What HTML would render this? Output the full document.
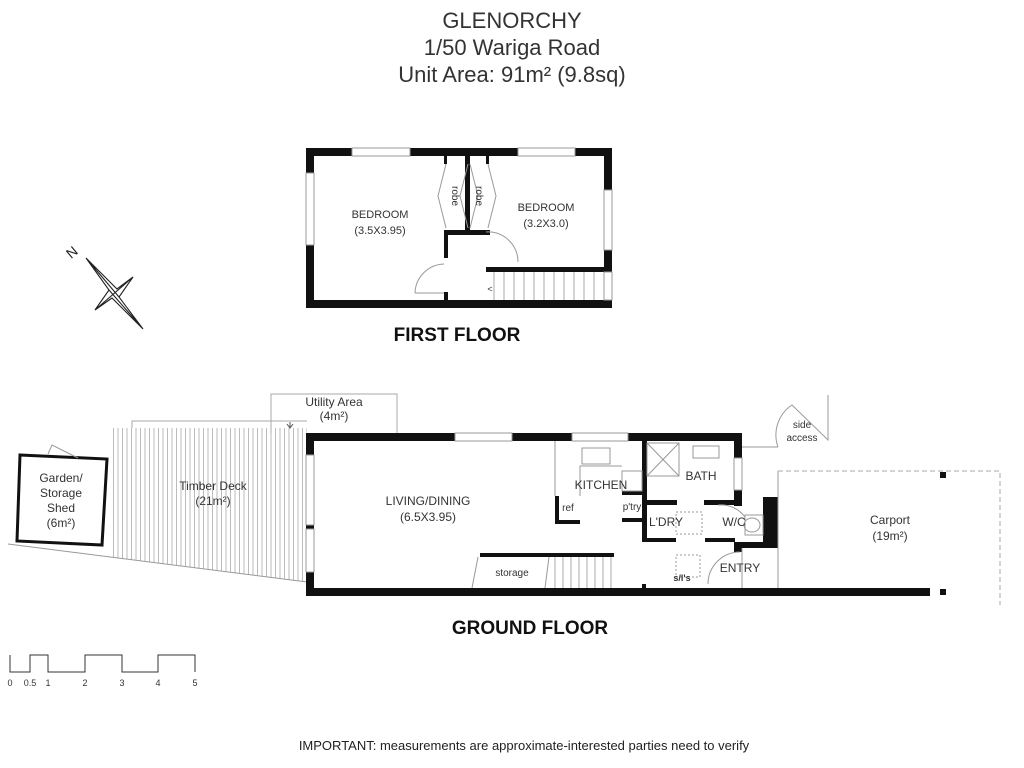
<!DOCTYPE html>
<html><head><meta charset="utf-8"><style>
html,body{margin:0;padding:0;background:#fff;}
svg{display:block;font-family:"Liberation Sans",sans-serif;}
</style></head><body>
<svg width="1024" height="768" viewBox="0 0 1024 768" xmlns="http://www.w3.org/2000/svg">
<defs>
<pattern id="deck" width="4.5" height="10" patternUnits="userSpaceOnUse"><line x1="1" y1="0" x2="1" y2="10" stroke="#aaa" stroke-width="0.8"/></pattern>
</defs>
<g fill="#333" text-anchor="middle" font-size="22">
<text x="512" y="28">GLENORCHY</text>
<text x="512" y="55">1/50 Wariga Road</text>
<text x="512" y="82">Unit Area: 91m² (9.8sq)</text>
</g>

<!-- FIRST FLOOR -->
<g fill="#111">
<rect x="306" y="148" width="306" height="8"/>
<rect x="306" y="148" width="8" height="160"/>
<rect x="604" y="148" width="8" height="160"/>
<rect x="306" y="300" width="306" height="8"/>
<rect x="465" y="156" width="5" height="76"/>
<rect x="444" y="230" width="46" height="5"/>
<rect x="444" y="230" width="4" height="28"/>
<rect x="444" y="292" width="4" height="10"/>
<rect x="486" y="267" width="120" height="5"/>
<rect x="486" y="230" width="4" height="5"/>
<rect x="444" y="156" width="3" height="8"/>
<rect x="486" y="156" width="3" height="8"/>
</g>
<g fill="#fff" stroke="#999" stroke-width="1">
<rect x="352" y="148" width="58" height="8"/>
<rect x="518" y="148" width="57" height="8"/>
<rect x="306" y="173" width="8" height="72"/>
<rect x="604" y="190" width="8" height="60"/>
<rect x="604" y="272" width="8" height="28"/>
</g>
<g fill="none" stroke="#999" stroke-width="1">
<path d="M446 164 L438 196 L446 228 M470 164 L478 196 L470 228 M488 164 L496 196 L488 228 M468 164 L460 196 L468 228"/>
<path d="M415 293 A30 30 0 0 1 444 264 M486 232 A30 30 0 0 1 518 262"/>
<line x1="415" y1="293" x2="444" y2="293"/>
</g>
<g stroke="#aaa" stroke-width="1">
<line x1="494" y1="272" x2="494" y2="300"/><line x1="504" y1="272" x2="504" y2="300"/><line x1="514" y1="272" x2="514" y2="300"/><line x1="524" y1="272" x2="524" y2="300"/><line x1="534" y1="272" x2="534" y2="300"/><line x1="544" y1="272" x2="544" y2="300"/><line x1="554" y1="272" x2="554" y2="300"/><line x1="564" y1="272" x2="564" y2="300"/><line x1="574" y1="272" x2="574" y2="300"/><line x1="584" y1="272" x2="584" y2="300"/><line x1="594" y1="272" x2="594" y2="300"/>
</g>
<g fill="#333" font-size="11" text-anchor="middle">
<text x="380" y="218">BEDROOM</text><text x="380" y="234">(3.5X3.95)</text>
<text x="546" y="211">BEDROOM</text><text x="546" y="227">(3.2X3.0)</text>
<text x="490" y="292" font-size="9">&lt;</text>
<text transform="translate(452,196) rotate(90)" font-size="10">robe</text>
<text transform="translate(476,196) rotate(90)" font-size="10">robe</text>
</g>
<text x="457" y="341" font-size="19" font-weight="bold" text-anchor="middle" fill="#111">FIRST FLOOR</text>

<!-- compass -->
<path d="M86 258 L117 289 L133 277 L119 297 L143 329 L112 298 L95 310 L109 290 Z M86 258 L119 297 M143 329 L109 290 M133 277 L95 310" fill="none" stroke="#222" stroke-width="1.1"/>
<text transform="translate(75,256) rotate(-40)" font-size="14" fill="#222" text-anchor="middle">N</text>

<!-- deck / shed -->
<path d="M111 428 L307 428 L307 582 L111 557 Z" fill="url(#deck)"/>
<path d="M132 428 L132 421 L307 421" fill="none" stroke="#aaa"/>
<path d="M8 544 L307 582" stroke="#999" fill="none"/>
<path d="M271 433 L271 394 L397 394 L397 433" fill="none" stroke="#aaa"/>
<path d="M290 422 L290 428 M287 424 L290 428 L293 424" stroke="#555" fill="none"/>
<path d="M20 455 L107 459 L102 545 L17 541 Z" fill="none" stroke="#111" stroke-width="3"/>
<path d="M48 454 L52 445 L78 458" fill="none" stroke="#999"/>
<g fill="#333" font-size="12" text-anchor="middle">
<text x="61" y="482">Garden/</text><text x="61" y="497">Storage</text><text x="61" y="512">Shed</text><text x="61" y="527">(6m²)</text>
<text x="213" y="490">Timber Deck</text><text x="213" y="505">(21m²)</text>
<text x="334" y="406">Utility Area</text><text x="334" y="420">(4m²)</text>
</g>

<!-- GROUND FLOOR -->
<g fill="#111">
<rect x="306" y="433" width="436" height="8"/>
<rect x="306" y="433" width="8" height="22"/>
<rect x="306" y="525" width="8" height="4"/>
<rect x="306" y="572" width="8" height="24"/>
<rect x="306" y="588" width="624" height="8"/>
<rect x="734" y="433" width="8" height="25"/>
<rect x="734" y="490" width="8" height="16"/>
<rect x="763" y="497" width="15" height="48"/>
<rect x="734" y="542" width="44" height="6"/>
<rect x="734" y="542" width="8" height="10"/>
<rect x="642" y="441" width="5" height="100"/>
<rect x="642" y="500" width="35" height="5"/>
<rect x="704" y="500" width="30" height="5"/>
<rect x="642" y="538" width="34" height="4"/>
<rect x="705" y="538" width="30" height="4"/>
<rect x="622" y="491" width="22" height="4"/>
<rect x="622" y="518" width="22" height="4"/>
<rect x="555" y="496" width="4" height="28"/>
<rect x="555" y="520" width="25" height="4"/>
<rect x="480" y="553" width="134" height="4"/>
<rect x="642" y="584" width="4" height="6"/>
<rect x="940" y="472" width="6" height="6"/>
<rect x="940" y="589" width="6" height="6"/>
</g>
<g fill="#fff" stroke="#999" stroke-width="1">
<rect x="455" y="433" width="57" height="8"/>
<rect x="572" y="433" width="56" height="8"/>
<rect x="734" y="458" width="8" height="32"/>
<rect x="306" y="455" width="8" height="70"/>
<rect x="306" y="529" width="8" height="43"/>
</g>
<g fill="none" stroke="#999" stroke-width="1">
<rect x="582" y="448" width="28" height="16"/><rect x="693" y="446" width="26" height="12"/>
<rect x="647" y="443" width="32" height="33"/><path d="M647 443 L679 476 M679 443 L647 476"/>
<rect x="622" y="471" width="20" height="20"/>
<path d="M555 441 L555 496 M580 496 L580 466 L622 466"/>
<rect x="676" y="512" width="26" height="22" stroke-dasharray="2 2"/>
<rect x="676" y="555" width="24" height="22" stroke-dasharray="2 2"/>
<path d="M708 584 A32 32 0 0 1 740 552"/>
<path d="M718 505 A30 30 0 0 1 745 517"/>
<path d="M742 548 L742 588 M778 471 L778 588"/>
<path d="M742 447 L778 447 M778 447 A36 36 0 0 1 792 405 L828 440 L828 395"/>
<rect x="745" y="515" width="18" height="20"/>
<ellipse cx="752" cy="525" rx="8" ry="7"/>
<path d="M478 557 L472 588 M549 557 L545 588"/>
</g>
<path d="M778 471 L1000 471 L1000 605" fill="none" stroke="#aaa" stroke-dasharray="5 3"/>
<g stroke="#aaa" stroke-width="1">
<line x1="555" y1="557" x2="555" y2="588"/><line x1="563" y1="557" x2="563" y2="588"/><line x1="571" y1="557" x2="571" y2="588"/><line x1="579" y1="557" x2="579" y2="588"/><line x1="587" y1="557" x2="587" y2="588"/><line x1="595" y1="557" x2="595" y2="588"/><line x1="603" y1="557" x2="603" y2="588"/><line x1="611" y1="557" x2="611" y2="588"/>
</g>
<g fill="#333" font-size="12" text-anchor="middle">
<text x="428" y="505">LIVING/DINING</text><text x="428" y="521">(6.5X3.95)</text>
<text x="601" y="489">KITCHEN</text>
<text x="568" y="511" font-size="10">ref</text>
<text x="632" y="510" font-size="10">p'try</text>
<text x="701" y="480">BATH</text>
<text x="666" y="526">L'DRY</text>
<text x="734" y="526">W/C</text>
<text x="740" y="572">ENTRY</text>
<text x="682" y="581" font-size="9" font-weight="bold">s/l's</text>
<text x="512" y="576" font-size="10">storage</text>
<text x="890" y="524">Carport</text><text x="890" y="540">(19m²)</text>
<text x="802" y="428" font-size="10">side</text><text x="802" y="441" font-size="10">access</text>
</g>
<text x="530" y="634" font-size="19" font-weight="bold" text-anchor="middle" fill="#111">GROUND FLOOR</text>

<!-- scale -->
<path d="M10 655 L10 672 L30 672 L30 655 L48 655 L48 672 L85 672 L85 655 L122 655 L122 672 L158 672 L158 655 L195 655 L195 672" fill="none" stroke="#333" stroke-width="1"/>
<g font-size="9" fill="#333" text-anchor="middle">
<text x="10" y="686">0</text><text x="30" y="686">0.5</text><text x="48" y="686">1</text><text x="85" y="686">2</text><text x="122" y="686">3</text><text x="158" y="686">4</text><text x="195" y="686">5</text>
</g>
<text x="524" y="750" font-size="13" fill="#222" text-anchor="middle">IMPORTANT: measurements are approximate-interested parties need to verify</text>
</svg>
</body></html>
